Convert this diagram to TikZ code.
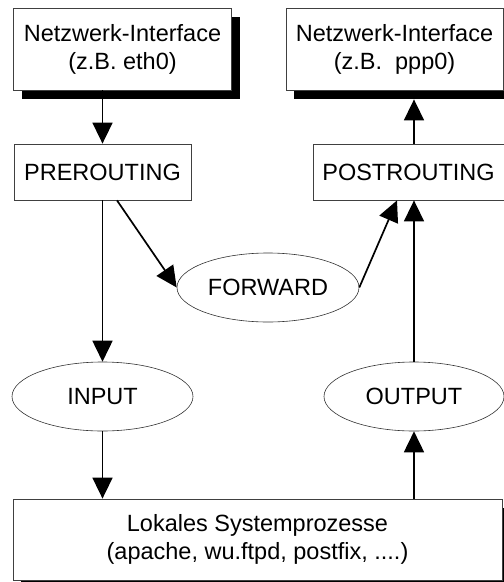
\documentclass[tikz,border=0pt]{standalone}
\usepackage{fontspec}
\setmainfont{Liberation Sans}
\usetikzlibrary{shapes.geometric,arrows.meta,shadows}

\begin{document}
\begin{tikzpicture}[x=1pt,y=-1pt,
    box/.style={shape=rectangle,draw=black!75,line width=0.8pt,fill=white,inner sep=0pt,align=center,font=\fontsize{23.5}{28}\selectfont},
    shadowbox/.style={box,drop shadow={shadow xshift=8pt,shadow yshift=-8.5pt,fill=black,opacity=1}},
    chain/.style={shape=ellipse,draw=black!80,line width=0.6pt,fill=white,inner sep=0pt,minimum width=181pt,minimum height=69pt,font=\fontsize{23.5}{28}\selectfont},
    flow/.style={-{Triangle[length=21pt,width=20pt]},line width=1.7pt}]
    \useasboundingbox (0,0) rectangle (504,582);
    \node[shadowbox, minimum width=218pt, minimum height=82pt] (eth) at (122.5,49) {Netzwerk-Interface\\(z.B. eth0)};
    \node[shadowbox, minimum width=217pt, minimum height=82pt] (ppp) at (394.5,49) {Netzwerk-Interface\\(z.B.\ \ ppp0)};
    \node[box, minimum width=177pt, minimum height=56pt] (pre) at (102.5,172) {PREROUTING};
    \node[box, minimum width=191pt, minimum height=56pt] (post) at (408.5,172) {POSTROUTING};
    \node[chain, minimum width=182pt] (fwd) at (268,287.5) {FORWARD};
    \node[chain] (in) at (102.5,396.5) {INPUT};
    \node[chain, minimum width=180pt] (out) at (414,396.5) {OUTPUT};
    \node[shadowbox, minimum width=489pt, minimum height=81pt] (local) at (257.5,539.5) {Lokales Systemprozesse\\(apache, wu.ftpd, postfix, ....)};
    % Pfeile
    \path [flow] (pre.north |- eth.south) edge (pre.north);
    \path [flow] (pre.south) edge (in.north);
    \path [flow] ([xshift=14.5pt]pre.south) edge (fwd.west);
    \path [flow] (fwd.east) edge ([xshift=-11.5pt]post.south);
    \path [flow] (in.south) edge (in.south |- local.north);
    \path [flow] (out.south |- local.north) edge (out.south);
    \path [flow] (out.north) edge (out.north |- post.south);
    \path [flow, shorten >=9pt] (out.north |- post.north) edge (out.north |- ppp.south);
\end{tikzpicture}
\end{document}
